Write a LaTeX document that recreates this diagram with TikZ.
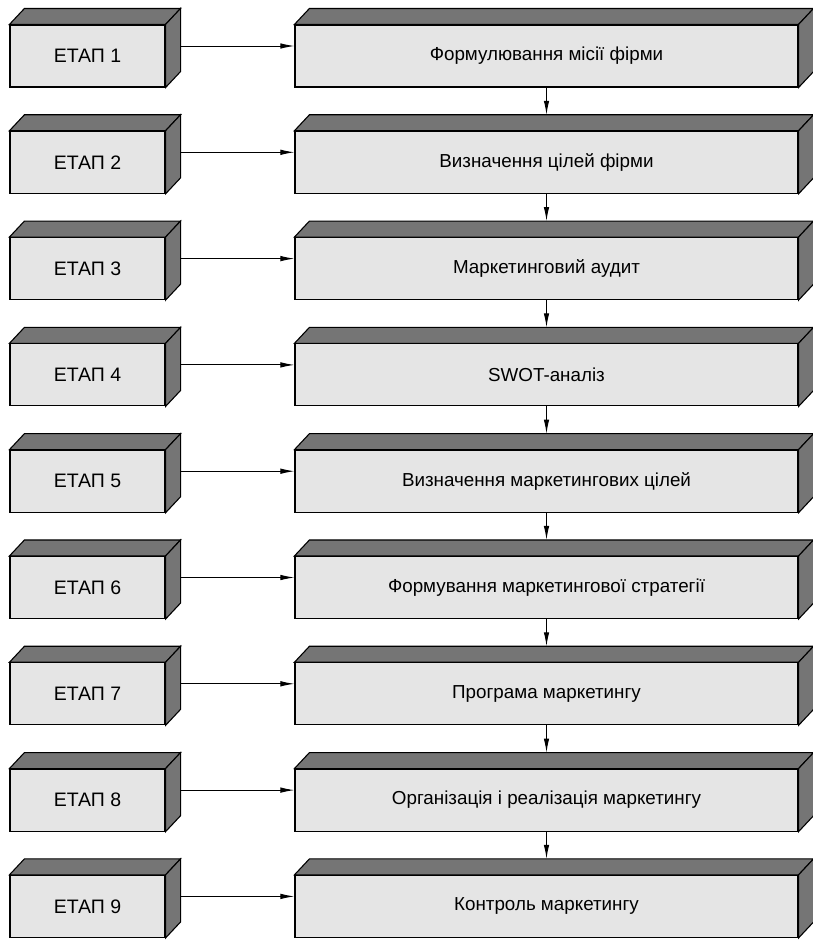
\documentclass[tikz,border=0pt]{standalone}
\usepackage{fontspec}
\setmainfont{Liberation Sans}
\usetikzlibrary{arrows.meta}
\definecolor{frontgray}{gray}{0.90}
\definecolor{sidegray}{gray}{0.46}
\tikzset{
  stagebox/.style={draw=black, line width=1.1pt, fill=frontgray, minimum width=155pt, minimum height=62pt, inner sep=0pt, font=\fontsize{19.5}{23}\selectfont},
  taskbox/.style={stagebox, minimum width=503pt, font=\fontsize{18.8}{22}\selectfont},
  face/.style={draw=black, line width=1.1pt, fill=sidegray, line join=miter},
  conn/.style={line width=1pt, -{Latex[length=14pt,width=5.5pt]}},
}
\begin{document}
\begin{tikzpicture}
\useasboundingbox (0,0) rectangle (813pt,-940pt);
\foreach \i/\t in {1/Формулювання місії фірми,
                   2/Визначення цілей фірми,
                   3/Маркетинговий аудит,
                   4/SWOT-аналіз,
                   5/Визначення маркетингових цілей,
                   6/Формування маркетингової стратегії,
                   7/Програма маркетингу,
                   8/Організація і реалізація маркетингу,
                   9/Контроль маркетингу}{
  \pgfmathsetmacro\yc{-(9+106.3*(\i-1)+47)}
  \node[stagebox] (L\i) at (87.5pt,\yc pt) {ЕТАП \i};
  \node[taskbox] (R\i) at (546.5pt,\yc pt) {\t};
  \draw[face] (L\i.north west) -- ++(15pt,16pt) -- ([shift={(15pt,16pt)}]L\i.north east) -- (L\i.north east) -- cycle;
  \draw[face] (L\i.north east) -- ++(15pt,16pt) -- ([shift={(15pt,16pt)}]L\i.south east) -- (L\i.south east) -- cycle;
  \draw[face] (R\i.north west) -- ++(15pt,16pt) -- ([shift={(15pt,16pt)}]R\i.north east) -- (R\i.north east) -- cycle;
  \draw[face] (R\i.north east) -- ++(15pt,16pt) -- ([shift={(15pt,16pt)}]R\i.south east) -- (R\i.south east) -- cycle;
  \draw[conn] ([shift={(15pt,10pt)}]L\i.east) -- ([yshift=10pt]R\i.west);
}
\foreach \i [evaluate=\i as \j using int(\i+1)] in {1,...,8}{
  \draw[conn] (R\i.south) -- ([yshift=16pt]R\j.north);
}
\end{tikzpicture}
\end{document}
